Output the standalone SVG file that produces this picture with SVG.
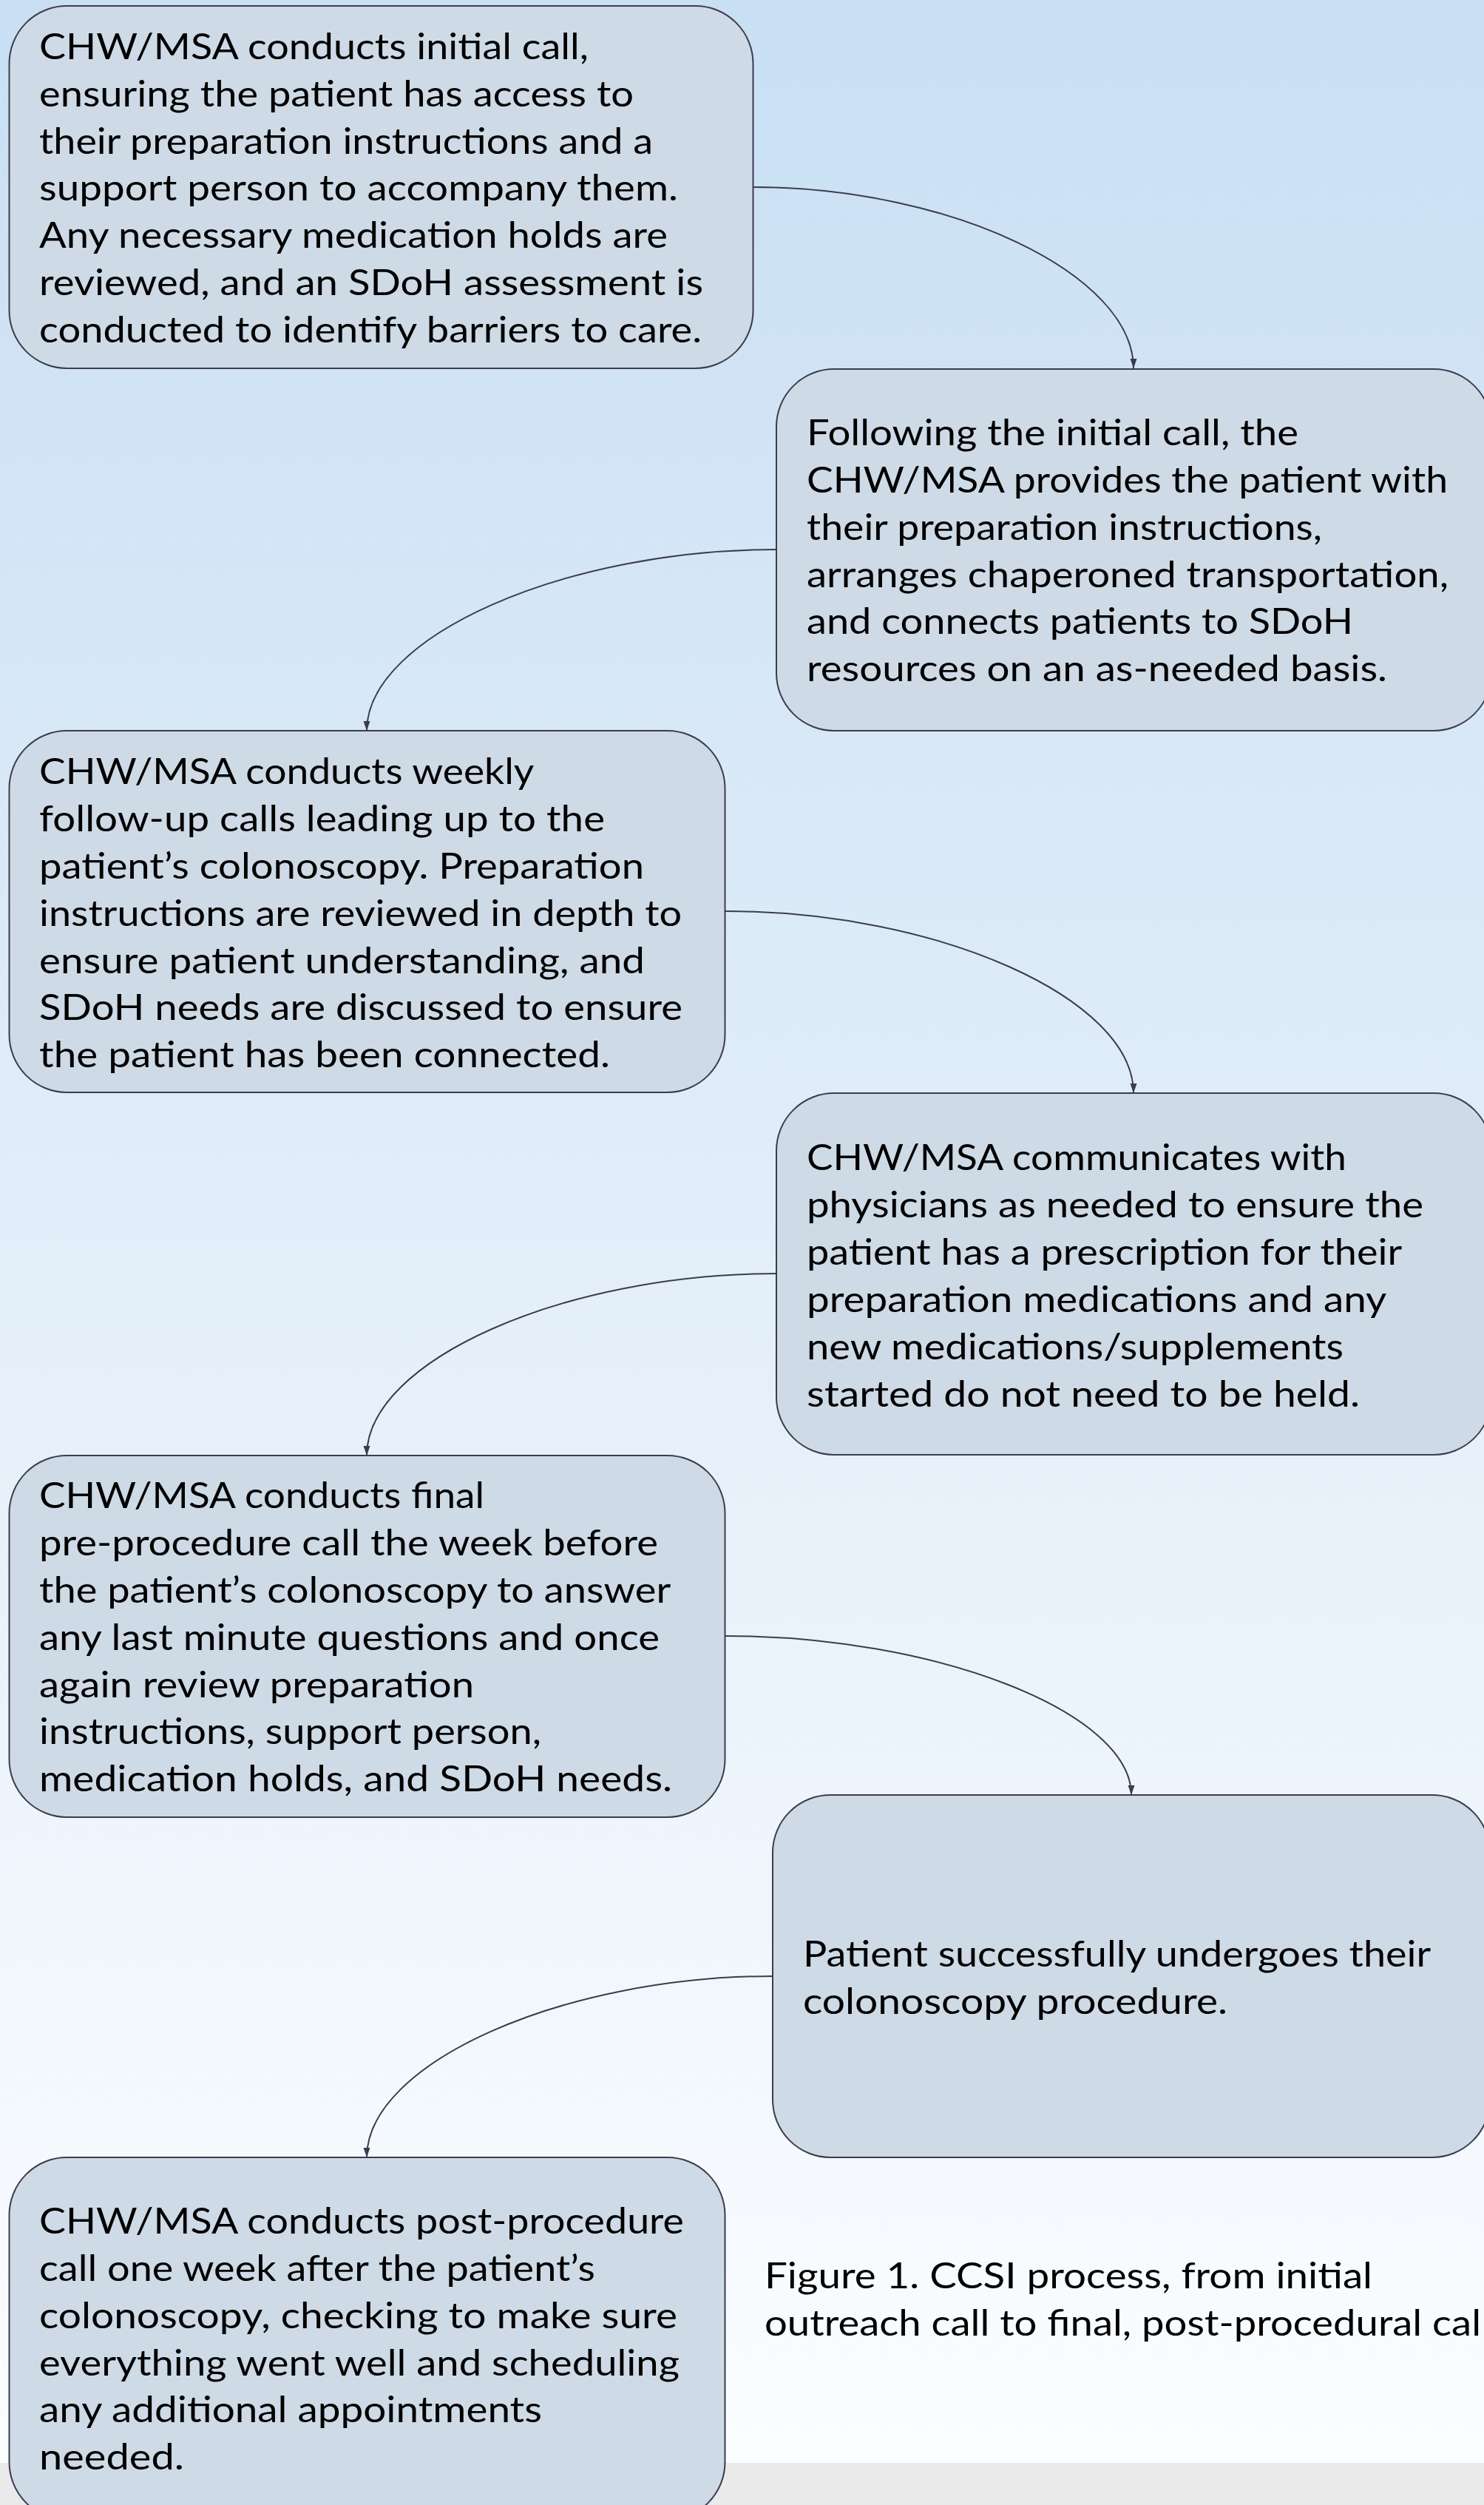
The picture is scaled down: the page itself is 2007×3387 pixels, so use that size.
<svg xmlns="http://www.w3.org/2000/svg" width="2007" height="3387" viewBox="0 0 2007 3387">
<style>
.box{fill:#cedae6;stroke:#3c3c4e;stroke-width:2}
.t{font-family:Lato,"Noto Sans","Liberation Sans",sans-serif;font-size:48px;fill:#000}
.conn{fill:none;stroke:#3c3c4e;stroke-width:2}
</style>
<defs>
<linearGradient id="bg" x1="0" y1="0" x2="0" y2="1">
<stop offset="0" stop-color="#c8dff4"/>
<stop offset="0.5" stop-color="#e2eef9"/>
<stop offset="1" stop-color="#fbfdff"/>
</linearGradient>
<marker id="arr" markerUnits="userSpaceOnUse" markerWidth="14" markerHeight="10" refX="13" refY="4.5" orient="auto">
<path d="M0,0 L13,4.5 L0,9 z" fill="#3c3c4e"/>
</marker>
</defs>
<rect x="0" y="0" width="2007" height="3330" fill="url(#bg)"/>
<rect x="0" y="3330" width="2007" height="57" fill="#eaeaea"/>

<g id="connectors">
<path class="conn" marker-end="url(#arr)" d="M1018,253 C1286,253 1533,371 1533,498"/>
<path class="conn" marker-end="url(#arr)" d="M1050,743 C762,743 496,861 496,988"/>
<path class="conn" marker-end="url(#arr)" d="M981,1232 C1268,1232 1533,1350 1533,1478"/>
<path class="conn" marker-end="url(#arr)" d="M1050,1722 C762,1722 496,1840 496,1968"/>
<path class="conn" marker-end="url(#arr)" d="M981,2212 C1266,2212 1530,2315 1530,2427"/>
<path class="conn" marker-end="url(#arr)" d="M1045,2672 C760,2672 496,2790 496,2917"/>
</g>

<g id="node1">
<rect class="box" x="12.5" y="8" width="1006" height="490" rx="78" ry="78"/>
<text class="t">
<tspan x="53" y="80" textLength="743" lengthAdjust="spacingAndGlyphs">CHW/MSA conducts initial call,</tspan>
<tspan x="53" y="144" textLength="804" lengthAdjust="spacingAndGlyphs">ensuring the patient has access to</tspan>
<tspan x="53" y="208" textLength="830" lengthAdjust="spacingAndGlyphs">their preparation instructions and a</tspan>
<tspan x="53" y="271" textLength="864" lengthAdjust="spacingAndGlyphs">support person to accompany them.</tspan>
<tspan x="53" y="335" textLength="850" lengthAdjust="spacingAndGlyphs">Any necessary medication holds are</tspan>
<tspan x="53" y="399" textLength="898" lengthAdjust="spacingAndGlyphs">reviewed, and an SDoH assessment is</tspan>
<tspan x="53" y="463" textLength="896" lengthAdjust="spacingAndGlyphs">conducted to identify barriers to care.</tspan>
</text>
</g>

<g id="node2">
<rect class="box" x="1050" y="499" width="967" height="489" rx="78" ry="78"/>
<text class="t">
<tspan x="1091" y="602" textLength="665" lengthAdjust="spacingAndGlyphs">Following the initial call, the</tspan>
<tspan x="1091" y="666" textLength="867" lengthAdjust="spacingAndGlyphs">CHW/MSA provides the patient with</tspan>
<tspan x="1091" y="730" textLength="697" lengthAdjust="spacingAndGlyphs">their preparation instructions,</tspan>
<tspan x="1091" y="794" textLength="868" lengthAdjust="spacingAndGlyphs">arranges chaperoned transportation,</tspan>
<tspan x="1091" y="857" textLength="739" lengthAdjust="spacingAndGlyphs">and connects patients to SDoH</tspan>
<tspan x="1091" y="921" textLength="785" lengthAdjust="spacingAndGlyphs">resources on an as-needed basis.</tspan>
</text>
</g>

<g id="node3">
<rect class="box" x="12.5" y="988" width="968" height="489" rx="78" ry="78"/>
<text class="t">
<tspan x="53" y="1060" textLength="668" lengthAdjust="spacingAndGlyphs">CHW/MSA conducts weekly</tspan>
<tspan x="53" y="1124" textLength="765" lengthAdjust="spacingAndGlyphs">follow-up calls leading up to the</tspan>
<tspan x="53" y="1188" textLength="818" lengthAdjust="spacingAndGlyphs">patient’s colonoscopy. Preparation</tspan>
<tspan x="53" y="1252" textLength="869" lengthAdjust="spacingAndGlyphs">instructions are reviewed in depth to</tspan>
<tspan x="53" y="1316" textLength="819" lengthAdjust="spacingAndGlyphs">ensure patient understanding, and</tspan>
<tspan x="53" y="1379" textLength="870" lengthAdjust="spacingAndGlyphs">SDoH needs are discussed to ensure</tspan>
<tspan x="53" y="1443" textLength="772" lengthAdjust="spacingAndGlyphs">the patient has been connected.</tspan>
</text>
</g>

<g id="node4">
<rect class="box" x="1050" y="1478" width="967" height="489" rx="78" ry="78"/>
<text class="t">
<tspan x="1091" y="1582" textLength="730" lengthAdjust="spacingAndGlyphs">CHW/MSA communicates with</tspan>
<tspan x="1091" y="1646" textLength="834" lengthAdjust="spacingAndGlyphs">physicians as needed to ensure the</tspan>
<tspan x="1091" y="1710" textLength="804" lengthAdjust="spacingAndGlyphs">patient has a prescription for their</tspan>
<tspan x="1091" y="1774" textLength="783" lengthAdjust="spacingAndGlyphs">preparation medications and any</tspan>
<tspan x="1091" y="1838" textLength="726" lengthAdjust="spacingAndGlyphs">new medications/supplements</tspan>
<tspan x="1091" y="1902" textLength="748" lengthAdjust="spacingAndGlyphs">started do not need to be held.</tspan>
</text>
</g>

<g id="node5">
<rect class="box" x="12.5" y="1968" width="968" height="489" rx="78" ry="78"/>
<text class="t">
<tspan x="53" y="2039" textLength="602" lengthAdjust="spacingAndGlyphs">CHW/MSA conducts final</tspan>
<tspan x="53" y="2103" textLength="837" lengthAdjust="spacingAndGlyphs">pre-procedure call the week before</tspan>
<tspan x="53" y="2167" textLength="853" lengthAdjust="spacingAndGlyphs">the patient’s colonoscopy to answer</tspan>
<tspan x="53" y="2231" textLength="839" lengthAdjust="spacingAndGlyphs">any last minute questions and once</tspan>
<tspan x="53" y="2295" textLength="588" lengthAdjust="spacingAndGlyphs">again review preparation</tspan>
<tspan x="53" y="2358" textLength="679" lengthAdjust="spacingAndGlyphs">instructions, support person,</tspan>
<tspan x="53" y="2422" textLength="856" lengthAdjust="spacingAndGlyphs">medication holds, and SDoH needs.</tspan>
</text>
</g>

<g id="node6">
<rect class="box" x="1045" y="2427" width="970" height="490" rx="78" ry="78"/>
<text class="t">
<tspan x="1086" y="2659" textLength="848" lengthAdjust="spacingAndGlyphs">Patient successfully undergoes their</tspan>
<tspan x="1086" y="2723" textLength="574" lengthAdjust="spacingAndGlyphs">colonoscopy procedure.</tspan>
</text>
</g>

<g id="node7">
<rect class="box" x="12.5" y="2917" width="968" height="490" rx="78" ry="78"/>
<text class="t">
<tspan x="53" y="3020" textLength="872" lengthAdjust="spacingAndGlyphs">CHW/MSA conducts post-procedure</tspan>
<tspan x="53" y="3084" textLength="752" lengthAdjust="spacingAndGlyphs">call one week after the patient’s</tspan>
<tspan x="53" y="3148" textLength="863" lengthAdjust="spacingAndGlyphs">colonoscopy, checking to make sure</tspan>
<tspan x="53" y="3212" textLength="866" lengthAdjust="spacingAndGlyphs">everything went well and scheduling</tspan>
<tspan x="53" y="3275" textLength="680" lengthAdjust="spacingAndGlyphs">any additional appointments</tspan>
<tspan x="53" y="3339" textLength="196" lengthAdjust="spacingAndGlyphs">needed.</tspan>
</text>
</g>

<g id="caption">
<text class="t">
<tspan x="1034" y="3094" textLength="822" lengthAdjust="spacingAndGlyphs">Figure 1. CCSI process, from initial</tspan>
<tspan x="1034" y="3158" textLength="969" lengthAdjust="spacingAndGlyphs">outreach call to final, post-procedural cal</tspan>
</text>
</g>
</svg>
